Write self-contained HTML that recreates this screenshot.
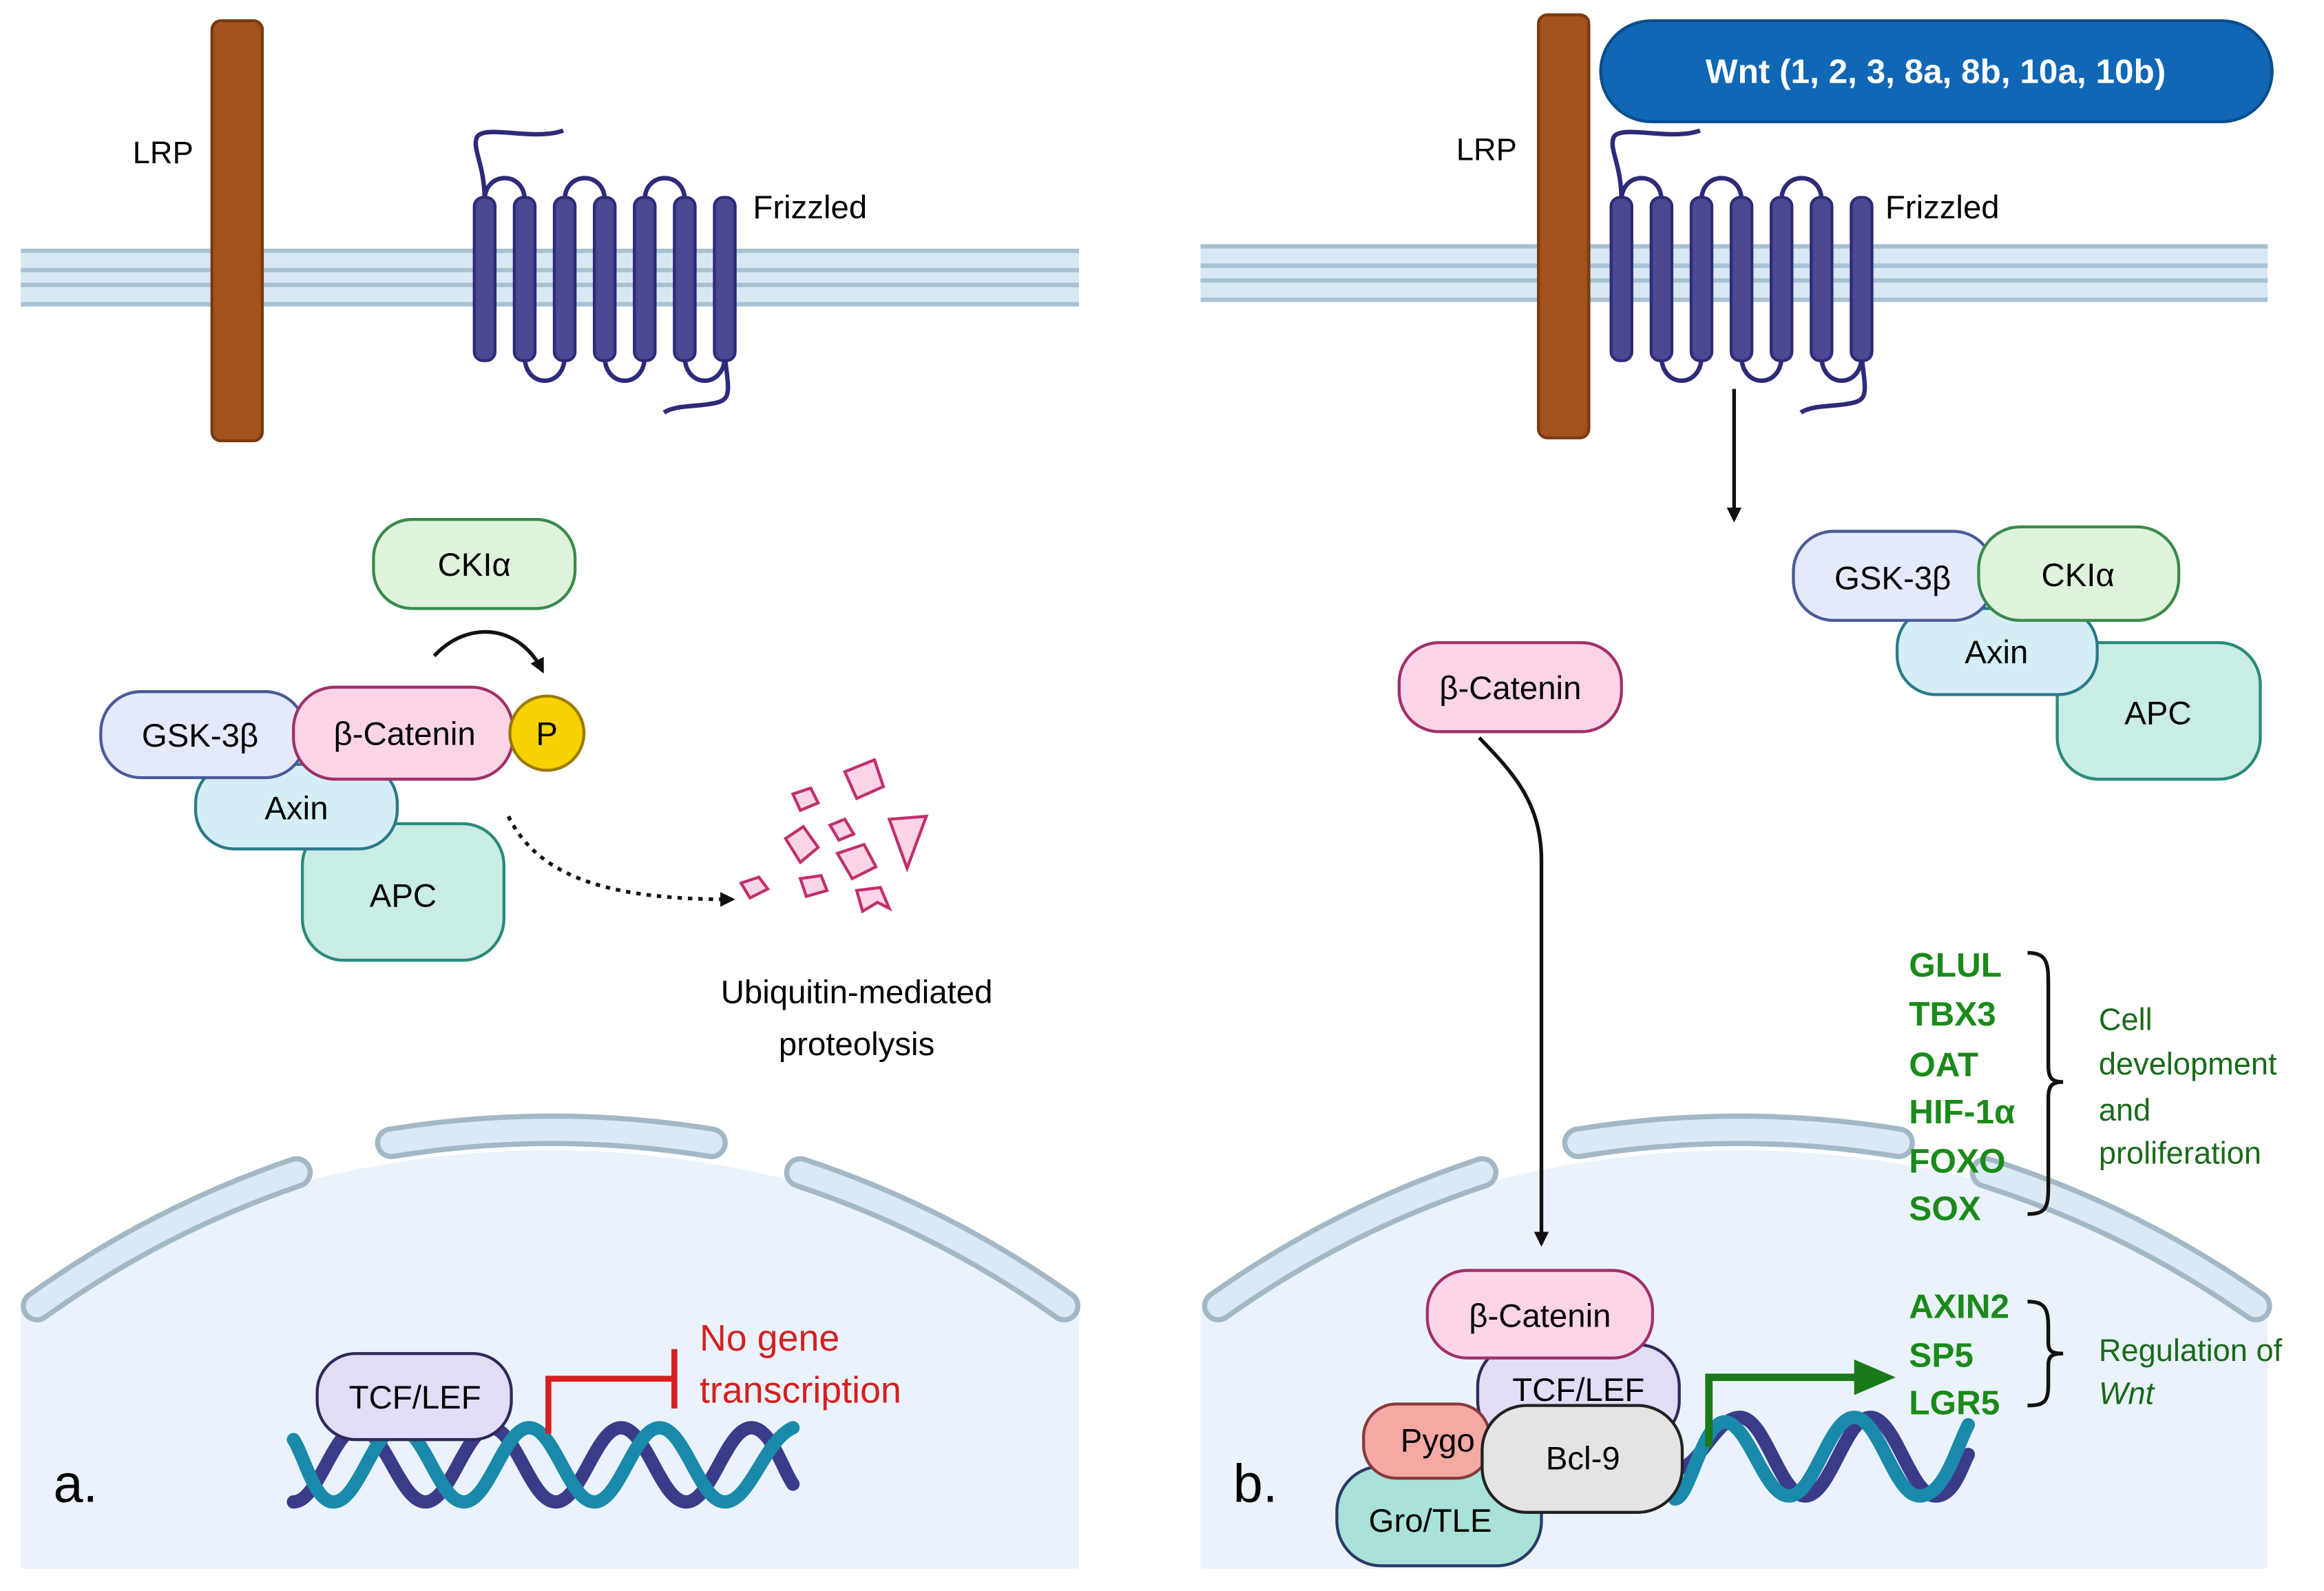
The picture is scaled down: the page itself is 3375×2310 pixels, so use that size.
<!DOCTYPE html>
<html><head><meta charset="utf-8"><style>
html,body{margin:0;padding:0;background:#fff;width:3375px;height:2310px;overflow:hidden}
svg{display:block}
text{font-family:"Liberation Sans",sans-serif}
</style></head><body>
<svg width="3375" height="2310" viewBox="0 0 1568 1072" preserveAspectRatio="none" xmlns="http://www.w3.org/2000/svg">
<defs>
<clipPath id="ca"><rect x="14" y="700" width="714" height="357"/></clipPath>
<clipPath id="cb"><rect x="810" y="700" width="720" height="357"/></clipPath>
<marker id="ah" markerWidth="10" markerHeight="10" refX="8" refY="5" orient="auto" markerUnits="userSpaceOnUse"><path d="M0,0 L10,5 L0,10 z" fill="#111"/></marker>
<marker id="ag" markerWidth="30" markerHeight="30" refX="4" refY="15" orient="auto" markerUnits="userSpaceOnUse"><path d="M0,3 L28,15 L0,27 z" fill="#1a7a1a"/></marker>
</defs>
<rect width="1568" height="1072" fill="#fff"/>

<g clip-path="url(#ca)"><circle cx="371" cy="1434" r="659" fill="#eaf2fb"/></g>
<g clip-path="url(#cb)"><circle cx="1172" cy="1434" r="659" fill="#eaf2fb"/></g>
<g fill="none" stroke-linecap="round">
<g stroke="#a3b8c6" stroke-width="22">
<path d="M25,880 A672,672 0 0 1 200,790"/><path d="M264,770 A672,672 0 0 1 480,770"/><path d="M540,790 A672,672 0 0 1 718,880"/>
<path d="M822,880 A672,672 0 0 1 1000,790"/><path d="M1065,770 A672,672 0 0 1 1281,770"/><path d="M1340,790 A672,672 0 0 1 1522,880"/>
</g>
<g stroke="#dbe9f4" stroke-width="15">
<path d="M25,880 A672,672 0 0 1 200,790"/><path d="M264,770 A672,672 0 0 1 480,770"/><path d="M540,790 A672,672 0 0 1 718,880"/>
<path d="M822,880 A672,672 0 0 1 1000,790"/><path d="M1065,770 A672,672 0 0 1 1281,770"/><path d="M1340,790 A672,672 0 0 1 1522,880"/>
</g>
</g>

<g>
<rect x="14" y="168" width="714" height="38" fill="#d7e8f3"/>
<rect x="810" y="165" width="720" height="38" fill="#d7e8f3"/>
<g stroke="#a9c2d2" stroke-width="3">
<line x1="14" y1="169" x2="728" y2="169"/><line x1="14" y1="182" x2="728" y2="182"/><line x1="14" y1="192" x2="728" y2="192"/><line x1="14" y1="205" x2="728" y2="205"/>
<line x1="810" y1="166" x2="1530" y2="166"/><line x1="810" y1="179" x2="1530" y2="179"/><line x1="810" y1="189" x2="1530" y2="189"/><line x1="810" y1="202" x2="1530" y2="202"/>
</g>
</g>

<rect x="143" y="14" width="34" height="283" rx="6" fill="#a3521c" stroke="#7a3a10" stroke-width="2"/>
<rect x="1038" y="10" width="34" height="285" rx="6" fill="#a3521c" stroke="#7a3a10" stroke-width="2"/>
<text x="110" y="110" font-size="21" text-anchor="middle">LRP</text>
<text x="1003" y="108" font-size="21" text-anchor="middle">LRP</text>

<g stroke="#2e2a7a" stroke-width="3" fill="none">
<path d="M327,135 C327,110 318,100 322,92 C328,84 360,95 380,88"/>
<path d="M327,135 C327,115 354,115 354,135 M381,135 C381,115 408,115 408,135 M435,135 C435,115 462,115 462,135"/>
<path d="M354,240 C354,262 381,262 381,240 M408,240 C408,262 435,262 435,240 M462,240 C462,262 489,262 489,240"/>
<path d="M489,240 C492,265 494,270 480,272 C470,274 455,273 448,278"/>
</g>
<g fill="#4b4a91" stroke="#2e2a7a" stroke-width="2">
<rect x="320" y="133" width="14" height="110" rx="6"/><rect x="347" y="133" width="14" height="110" rx="6"/><rect x="374" y="133" width="14" height="110" rx="6"/><rect x="401" y="133" width="14" height="110" rx="6"/><rect x="428" y="133" width="14" height="110" rx="6"/><rect x="455" y="133" width="14" height="110" rx="6"/><rect x="482" y="133" width="14" height="110" rx="6"/>
</g>
<text x="508" y="147" font-size="22">Frizzled</text>

<g transform="translate(767,0)">
<g stroke="#2e2a7a" stroke-width="3" fill="none">
<path d="M327,135 C327,110 318,100 322,92 C328,84 360,95 380,88"/>
<path d="M327,135 C327,115 354,115 354,135 M381,135 C381,115 408,115 408,135 M435,135 C435,115 462,115 462,135"/>
<path d="M354,240 C354,262 381,262 381,240 M408,240 C408,262 435,262 435,240 M462,240 C462,262 489,262 489,240"/>
<path d="M489,240 C492,265 494,270 480,272 C470,274 455,273 448,278"/>
</g>
<g fill="#4b4a91" stroke="#2e2a7a" stroke-width="2">
<rect x="320" y="133" width="14" height="110" rx="6"/><rect x="347" y="133" width="14" height="110" rx="6"/><rect x="374" y="133" width="14" height="110" rx="6"/><rect x="401" y="133" width="14" height="110" rx="6"/><rect x="428" y="133" width="14" height="110" rx="6"/><rect x="455" y="133" width="14" height="110" rx="6"/><rect x="482" y="133" width="14" height="110" rx="6"/>
</g>
</g>
<text x="1272" y="147" font-size="22">Frizzled</text>

<rect x="1080" y="14" width="453" height="68" rx="34" fill="#0f67b5" stroke="#0a4d8a" stroke-width="2"/>
<text x="1306" y="56" font-size="23" fill="#fff" text-anchor="middle" font-weight="bold">Wnt (1, 2, 3, 8a, 8b, 10a, 10b)</text>

<g font-size="22" text-anchor="middle" stroke-width="2">
<rect x="252" y="350" width="136" height="60" rx="26" fill="#dff3dc" stroke="#3a8a4a"/>
<text x="320" y="388">CKIα</text>
<rect x="204" y="555" width="136" height="92" rx="28" fill="#c9ece5" stroke="#2a8a7a"/>
<text x="272" y="611">APC</text>
<rect x="132" y="515" width="136" height="57" rx="26" fill="#d5eef5" stroke="#2a7a8a"/>
<text x="200" y="552">Axin</text>
<rect x="68" y="466" width="138" height="58" rx="27" fill="#e4e9fb" stroke="#4a5a9a"/>
<text x="135" y="503">GSK-3β</text>
<rect x="198" y="463" width="148" height="62" rx="28" fill="#fbd4e7" stroke="#a0306a"/>
<text x="273" y="502">β-Catenin</text>
<circle cx="369" cy="494" r="25" fill="#f6d200" stroke="#9a7a00"/>
<text x="369" y="502">P</text>
</g>
<path d="M293,442 C315,418 350,420 366,452" stroke="#111" stroke-width="2.5" fill="none" marker-end="url(#ah)"/>
<path d="M343,550 C365,595 420,606 494,606" stroke="#111" stroke-width="2.5" stroke-dasharray="3,4" fill="none" marker-end="url(#ah)"/>
<g fill="#fbd4e7" stroke="#c0306a" stroke-width="2">
<path d="M570,520 L590,512 L596,530 L578,538 z"/>
<path d="M535,535 l12,-4 l5,10 l-12,5 z"/>
<path d="M600,552 L625,550 L612,585 z"/>
<path d="M530,565 l12,-8 l10,14 l-12,10 z"/>
<path d="M560,556 l10,-4 l6,10 l-10,4 z"/>
<path d="M565,575 l18,-6 l8,15 l-16,8 z"/>
<path d="M500,595 l12,-4 l6,8 l-12,6 z"/>
<path d="M540,592 l14,-2 l4,10 l-14,4 z"/>
<path d="M578,600 l16,-2 l6,14 l-8,-4 l-10,6 z"/>
</g>
<text x="578" y="676" font-size="22" text-anchor="middle">Ubiquitin-mediated</text>
<text x="578" y="711" font-size="22" text-anchor="middle">proteolysis</text>

<g fill="none" stroke-width="9" stroke-linecap="round">
<path d="M198,1012 C215,1012 225,962 242,962 C259,962 270,1012 287,1012 C304,1012 314,962 331,962 C348,962 358,1012 375,1012 C392,1012 402,962 419,962 C436,962 446,1012 463,1012 C480,1012 490,962 507,962 C520,962 528,990 535,1000" stroke="#3b3b8a"/>
<path d="M198,970 C205,980 212,1012 225,1012 C242,1012 252,962 269,962 C286,962 296,1012 313,1012 C330,1012 340,962 357,962 C374,962 384,1012 401,1012 C418,1012 428,962 445,962 C462,962 472,1012 489,1012 C506,1012 516,970 535,962" stroke="#1a8aaa"/>
</g>
<rect x="214" y="912" width="131" height="58" rx="26" fill="#e1ddf6" stroke="#2e2a5a" stroke-width="2"/>
<text x="280" y="949" font-size="22" text-anchor="middle">TCF/LEF</text>
<path d="M370,966 L370,929 L455,929 M455,909 L455,949" stroke="#d42020" stroke-width="4" fill="none"/>
<text x="472" y="910" font-size="25" fill="#d42020">No gene</text>
<text x="472" y="945" font-size="25" fill="#d42020">transcription</text>
<text x="36" y="1012" font-size="36">a.</text>

<line x1="1170" y1="262" x2="1170" y2="350" stroke="#111" stroke-width="2.5" marker-end="url(#ah)"/>
<g font-size="22" text-anchor="middle" stroke-width="2">
<rect x="1388" y="433" width="137" height="92" rx="28" fill="#c9ece5" stroke="#2a8a7a"/>
<text x="1456" y="488">APC</text>
<rect x="1280" y="410" width="135" height="58" rx="26" fill="#d5eef5" stroke="#2a7a8a"/>
<text x="1347" y="447">Axin</text>
<rect x="1210" y="358" width="135" height="60" rx="27" fill="#e4e9fb" stroke="#4a5a9a"/>
<text x="1277" y="397">GSK-3β</text>
<rect x="1335" y="355" width="135" height="63" rx="28" fill="#dff3dc" stroke="#3a8a4a"/>
<text x="1402" y="395">CKIα</text>
<rect x="944" y="433" width="150" height="60" rx="27" fill="#fbd4e7" stroke="#a0306a"/>
<text x="1019" y="471">β-Catenin</text>
</g>
<path d="M998,497 C1020,520 1040,540 1040,580 L1040,838" stroke="#111" stroke-width="2.5" fill="none" marker-end="url(#ah)"/>

<g fill="none" stroke-width="9" stroke-linecap="round">
<path d="M1130,990 C1147,990 1157,955 1174,955 C1191,955 1201,1008 1218,1008 C1235,1008 1245,955 1262,955 C1279,955 1289,1008 1306,1008 C1318,1008 1323,990 1328,980" stroke="#3b3b8a"/>
<path d="M1130,1010 C1140,1010 1148,960 1163,958 C1180,958 1190,1008 1207,1008 C1224,1008 1234,955 1251,955 C1268,955 1278,1008 1295,1008 C1312,1008 1320,975 1328,960" stroke="#1a8aaa"/>
</g>
<path d="M1153,975 L1153,928 L1255,928" stroke="#1a7a1a" stroke-width="5" fill="none" marker-end="url(#ag)"/>
<g font-size="22" text-anchor="middle" stroke-width="2">
<rect x="902" y="988" width="138" height="67" rx="30" fill="#a8e2d8" stroke="#2a3a6a"/>
<text x="965" y="1032">Gro/TLE</text>
<rect x="997" y="906" width="136" height="66" rx="28" fill="#e1ddf6" stroke="#2e2a5a"/>
<text x="1065" y="944">TCF/LEF</text>
<rect x="920" y="946" width="85" height="50" rx="22" fill="#f5a9a4" stroke="#8a3a3a"/>
<text x="970" y="978">Pygo</text>
<rect x="1000" y="947" width="135" height="72" rx="30" fill="#e4e4e4" stroke="#222"/>
<text x="1068" y="990">Bcl-9</text>
<rect x="963" y="856" width="152" height="59" rx="27" fill="#fbd4e7" stroke="#a0306a"/>
<text x="1039" y="894">β-Catenin</text>
</g>
<text x="832" y="1012" font-size="36">b.</text>

<g font-size="23" fill="#1a8a1a" font-weight="bold">
<text x="1288" y="658">GLUL</text><text x="1288" y="691">TBX3</text><text x="1288" y="725">OAT</text><text x="1288" y="757">HIF-1α</text><text x="1288" y="790">FOXO</text><text x="1288" y="822">SOX</text>
<text x="1288" y="888">AXIN2</text><text x="1288" y="921">SP5</text><text x="1288" y="953">LGR5</text>
</g>
<g fill="none" stroke="#111" stroke-width="2.5">
<path d="M1368,642 C1382,642 1382,650 1382,665 L1382,718 C1382,726 1384,729 1392,729 C1384,729 1382,732 1382,740 L1382,800 C1382,814 1380,818 1368,818"/>
<path d="M1368,877 C1380,877 1382,882 1382,895 L1382,905 C1382,910 1384,912 1392,912 C1384,912 1382,914 1382,920 L1382,932 C1382,944 1380,947 1368,947"/>
</g>
<g font-size="21" fill="#1a6a1a">
<text x="1416" y="694">Cell</text><text x="1416" y="724">development</text><text x="1416" y="755">and</text><text x="1416" y="784">proliferation</text>
<text x="1416" y="917">Regulation of</text><text x="1416" y="946" font-style="italic">Wnt</text>
</g>
</svg>
</body></html>
